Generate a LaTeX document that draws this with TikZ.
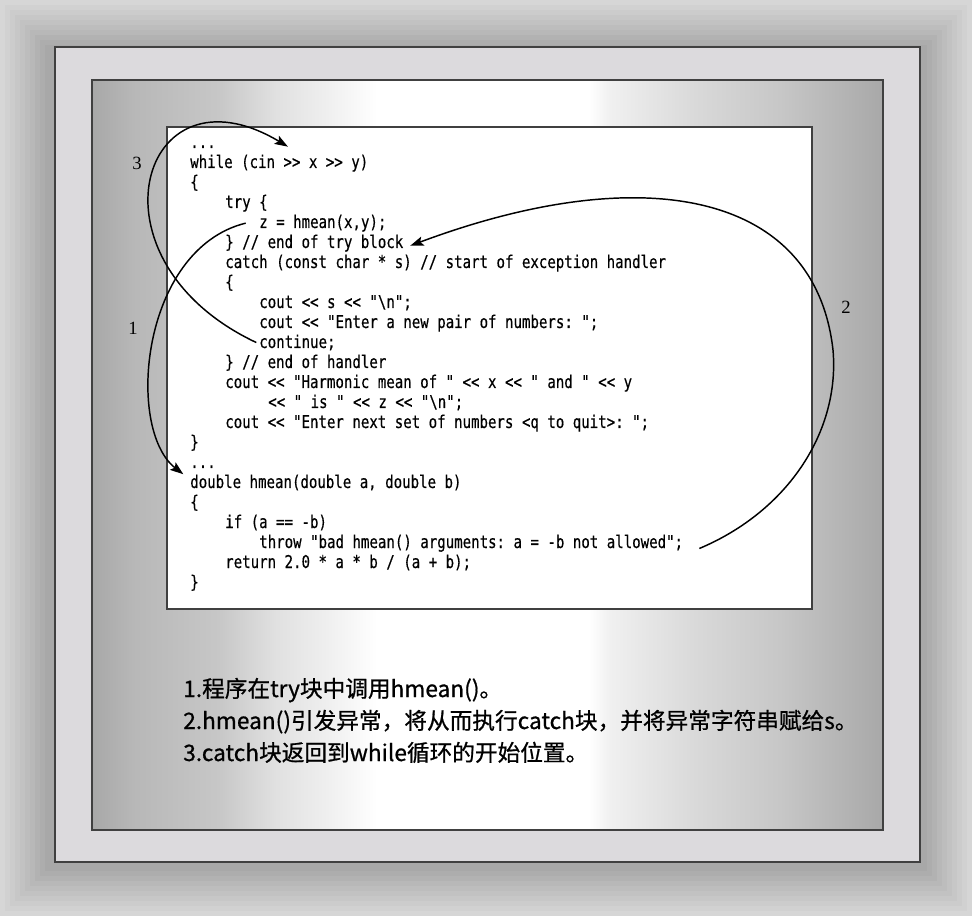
\documentclass[tikz,border=0pt]{standalone}
\usepackage{fontspec}
\setmonofont[FakeStretch=0.8,FakeBold=0.4]{DejaVu Sans Mono}
\newfontfamily\cjk[FakeBold=0.8]{Noto Sans CJK SC}
\newfontfamily\numfont{Liberation Serif}
\usetikzlibrary{arrows.meta}

\definecolor{pgray}{HTML}{A8A8A8}
\definecolor{framefill}{HTML}{DCDADD}
\definecolor{edge}{HTML}{404040}
\pgfdeclarehorizontalshading{panelshade}{100bp}{color(0bp)=(pgray); color(25bp)=(pgray); color(27.7bp)=(black!28); color(33bp)=(black!22); color(36.6bp)=(black!12); color(40bp)=(black!6); color(43bp)=(white); color(56.4bp)=(white); color(57.8bp)=(black!6); color(63.2bp)=(black!15); color(68.5bp)=(black!22); color(75bp)=(pgray); color(100bp)=(pgray)}

\begin{document}
\begin{tikzpicture}[x=0.75pt,y=-0.75pt,
  code/.style={anchor=base west, inner sep=0pt, font=\ttfamily\fontsize{13.2}{15}\selectfont},
  note/.style={anchor=base west, inner sep=0pt, font=\cjk\fontsize{17}{20}\selectfont},
  num/.style={inner sep=0pt, font=\numfont\fontsize{14}{16}\selectfont},
  frameline/.style={draw=edge, line width=1.5pt},
  flow/.style={line width=1.1pt, -{Stealth[length=10pt,width=7pt,inset=2pt]}}]
\useasboundingbox (0,0) rectangle (972,916);
% background bands
\foreach \i [evaluate=\i as \c using 16+2*\i] in {0,...,9}
  \fill[black!\c] (\i*5,\i*5) rectangle (972-\i*5,916-\i*5);
\draw[frameline, fill=framefill] (55,47) rectangle (920,862);
\shadedraw[frameline, shading=panelshade] (92,80) rectangle (883,830);
\draw[frameline, fill=white] (167,127) rectangle (812,609);

% code
\node[code] (dotsA) at (190,148) {...};
\node[code] (whileL) at (190,168) {while (cin >> x >> y)};
\node[code] (brA) at (190,188) {\{};
\node[code] (tryL) at (225,208) {try \{};
\node[code] (zL) at (259,228) {z = hmean(x,y);};
\node[code] (endtry) at (225,248) {\} // end of try block};
\node[code] (catchL) at (225,268) {catch (const char * s) // start of exception handler};
\node[code] (brB) at (225,288) {\{};
\node[code] (coutS) at (259,308) {cout << s << "\textbackslash n";};
\node[code] (coutPair) at (259,328) {cout << "Enter a new pair of numbers: ";};
\node[code] (contL) at (259,348) {continue;};
\node[code] (endH) at (225,368) {\} // end of handler};
\node[code] (coutH) at (225,388) {cout << "Harmonic mean of " << x << " and " << y};
\node[code] (isL) at (268,408) {<< " is " << z << "\textbackslash n";};
\node[code] (coutNext) at (225,428) {cout << "Enter next set of numbers <q to quit>: ";};
\node[code] (brC) at (190,448) {\}};
\node[code] (dotsB) at (190,468) {...};
\node[code] (doubleL) at (190,488) {double hmean(double a, double b)};
\node[code] (brD) at (190,508) {\{};
\node[code] (ifL) at (225,528) {if (a == -b)};
\node[code] (throwL) at (259,548) {throw "bad hmean() arguments: a = -b not allowed";};
\node[code] (retL) at (225,568) {return 2.0 * a * b / (a + b);};
\node[code] (brE) at (190,588) {\}};

% step numbers
\node[num] (numC) at (137,163) {3};
\node[num] (numA) at (133,328) {1};
\node[num] (numB) at (846,307) {2};

% flow of control
\draw[flow] ([xshift=-10pt]zL.west) .. controls +(-105,26) and +(-58,-45) .. ([xshift=-5pt]doubleL.north west);
\draw[flow] ([xshift=12pt,yshift=-4pt]throwL.east) .. controls +(90,-38) and (840,430) .. (833,350)
  .. controls (815,190) and +(230,-86) .. ([xshift=5pt,yshift=-2pt]endtry.east);
\draw[flow] ([xshift=-2pt]contL.west) .. controls +(-176,-83) and +(-147,-88) .. ([xshift=54pt]dotsA.east);

% notes
\node[note] (noteA) at (183,697) {1.程序在try块中调用hmean()。};
\node[note] (noteB) at (183,729) {2.hmean()引发异常，将从而执行catch块，并将异常字符串赋给s。};
\node[note] (noteC) at (183,761) {3.catch块返回到while循环的开始位置。};
\end{tikzpicture}
\end{document}
